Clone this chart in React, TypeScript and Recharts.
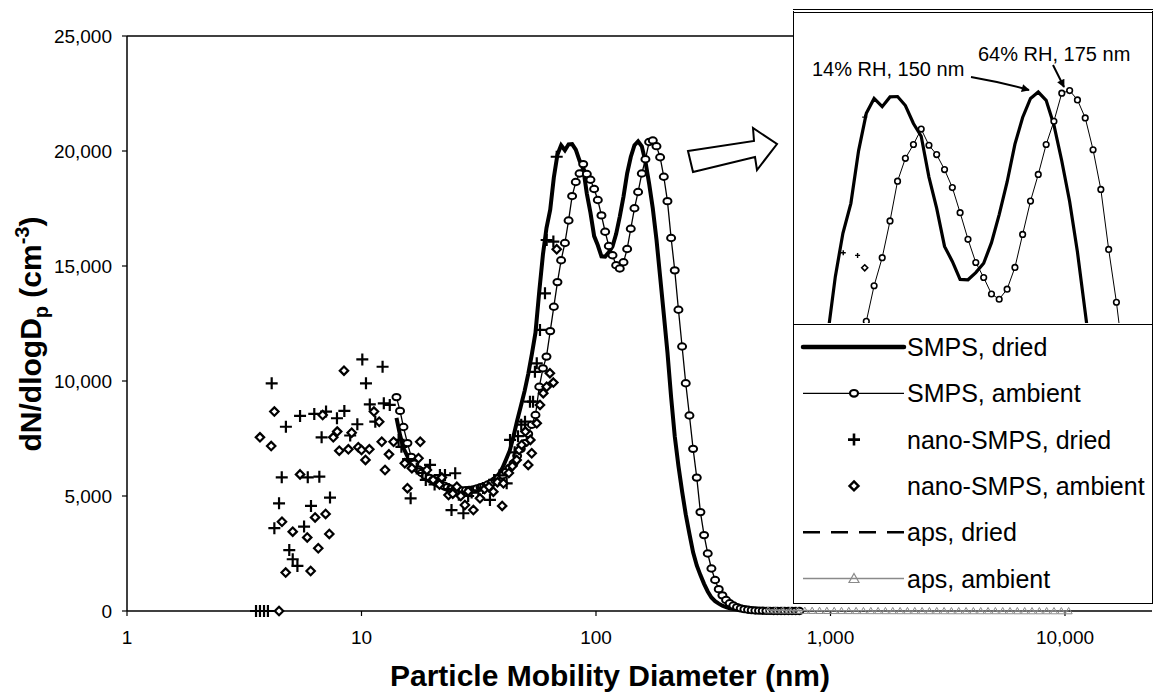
import React from "react";
import { ScatterChart, Scatter, XAxis, YAxis, ReferenceLine } from "recharts";

const FONT = '"Liberation Sans", Arial, Helvetica, sans-serif';

// SMPS channel midpoints (nm)
const SMPS_DIAM = [
  14.1, 14.6, 15.1, 15.7, 16.3, 16.8, 17.5, 18.1, 18.8, 19.5,
  20.2, 20.9, 21.7, 22.5, 23.3, 24.1, 25.0, 25.9, 26.9, 27.9,
  28.9, 30.0, 31.1, 32.2, 33.4, 34.6, 35.9, 37.2, 38.5, 40.0,
  41.4, 42.9, 44.5, 46.1, 47.8, 49.6, 51.4, 53.3, 55.2, 57.3,
  59.4, 61.5, 63.8, 66.1, 68.5, 71.0, 73.7, 76.4, 79.1, 82.0,
  85.1, 88.2, 91.4, 94.7, 98.2, 101.8, 105.5, 109.4, 113.4, 117.6,
  121.9, 126.3, 131.0, 135.8, 140.7, 145.9, 151.2, 156.8, 162.5, 168.5,
  174.7, 181.1, 187.7, 194.6, 201.7, 209.1, 216.7, 224.7, 232.9, 241.4,
  250.3, 259.5, 269.0, 278.8, 289.0, 299.6, 310.6, 322.0, 333.8, 346.0,
  358.7, 371.8, 385.4, 399.5, 414.2, 429.4, 445.1, 461.4, 478.3, 495.8,
  514.0, 532.8, 552.3, 572.5, 593.5, 615.3, 637.8, 661.2, 685.4, 710.5, 736.5,
];

const SMPS_DRIED = [
  8400, 7650, 7080, 6720, 6400, 6200, 6020, 5880, 5740, 5640,
  5550, 5470, 5390, 5320, 5260, 5200, 5165, 5150, 5135, 5150,
  5200, 5265, 5340, 5420, 5510, 5580, 5680, 5790, 5950, 6240,
  6600, 6980, 7600, 8270, 8900, 9560, 10300, 11180, 12100, 13900,
  15500, 16650, 17450, 18850, 19850, 20250, 20030, 20290, 20300, 20060,
  19580, 19240, 18150, 17320, 16300, 15900, 15420, 15410, 15600, 15850,
  16400, 17150, 18020, 19030, 19740, 20250, 20420, 20200, 19540, 18580,
  17500, 16150, 14540, 12900, 11250, 9300, 7600, 6300, 5200, 4200,
  3350, 2550, 1980, 1560, 1180, 850, 590, 430, 320, 230,
  170, 120, 85, 60, 42, 25, 15, 8, 4, 2,
  1, 1, 0, 0, 0, 0, 0, 0, 0, 0, 0,
];

const SMPS_AMBIENT = [
  9300, 8700, 8000, 7300, 6700, 6400, 6150, 6000, 5870, 5780,
  5700, 5620, 5530, 5450, 5380, 5320, 5270, 5250, 5240, 5250,
  5260, 5290, 5330, 5380, 5430, 5500, 5580, 5680, 5780, 5900,
  6050, 6230, 6420, 6750, 7050, 7300, 7700, 8100, 8520, 9750,
  10550, 11060, 12170, 13230, 14300, 15250, 16000, 16980, 18040, 18650,
  19020, 19430, 19000, 18750, 18350, 17870, 17200, 16490, 15870, 15470,
  15030, 14890, 15160, 15740, 16620, 17510, 18220, 19020, 19640, 20390,
  20460, 20210, 19730, 18880, 17820, 16220, 14810, 13100, 11500, 9900,
  8500, 7050, 5800, 4300, 3300, 2500, 1850, 1350, 950, 680,
  480, 340, 240, 170, 115, 80, 55, 38, 25, 16,
  10, 6, 4, 2, 1, 0, 0, 0, 0, 0, 0,
];

const NANO_DRIED_DIAM = [
  3.55, 3.69, 3.84, 3.99, 4.14, 4.25, 4.45, 4.57, 4.76, 4.92,
  5.09, 5.33, 5.47, 5.69, 5.9, 6.09, 6.29, 6.61, 6.76, 7.06,
  7.34, 7.86, 8.45, 8.95, 9.6, 10.08, 10.45, 10.85, 11.45, 12.3,
  12.45, 13.2, 14.4, 14.8, 15.8, 16.2, 17.2, 18.2, 18.8, 19.6,
  20.5, 21.6, 22.7, 23.5, 24.2, 25.1, 26.0, 27.2, 28.5, 29.5,
  31.5, 33.0, 35.3, 36.8, 38.8, 41.6, 43.0, 45.0, 46.5, 48.0,
  49.8, 52.3, 53.9, 54.9, 55.9, 57.7, 60.6, 61.6, 65.8, 68.0,
];
const NANO_DRIED = [
  0, 0, 0, 0, 9900, 3600, 4680, 5810, 8010, 2650,
  2250, 1960, 8480, 3670, 5810, 4570, 8570, 5840, 7550, 8670,
  4930, 8380, 8700, 7630, 8120, 10940, 9900, 8980, 8230, 10620,
  9030, 8960, 7440, 7140, 6600, 4900, 6200, 6000, 5700, 6350,
  5500, 5910, 5910, 5300, 4390, 5990, 5050, 4250, 5000, 5150,
  5250, 5350, 4830, 5700, 5900, 5550, 7440, 6900, 7600, 8100,
  8230, 9100, 9100, 10400, 10770, 12220, 13810, 16130, 16060, 19750,
];

const NANO_AMBIENT_DIAM = [
  3.69, 4.12, 4.25, 4.45, 4.58, 4.75, 5.09, 5.47, 5.87, 6.07,
  6.34, 6.54, 6.83, 7.03, 7.29, 7.58, 7.88, 8.04, 8.42, 8.79,
  9.08, 9.69, 10.0, 10.4, 10.8, 11.3, 11.9, 12.2, 12.6, 13.1,
  13.7, 15.3, 15.7, 16.4, 17.5, 17.8, 19.0, 20.2, 21.5, 22.0,
  23.5, 24.5, 25.5, 26.5, 27.6, 28.5, 30.0, 32.0, 33.5, 35.0,
  36.5, 38.0, 39.8, 40.3, 42.5, 44.0, 45.9, 47.0, 48.2, 50.0,
  51.4, 52.5, 53.2, 55.9, 57.7, 59.6, 61.6, 63.6, 65.8, 68.0,
];
const NANO_AMBIENT = [
  7550, 7170, 8670, 0, 3880, 1670, 3450, 5940, 3200, 1740,
  4070, 2730, 8520, 4220, 3350, 7550, 7800, 6970, 10450, 7030,
  7750, 7120, 7000, 6570, 7030, 8670, 8230, 7360, 6130, 6810,
  7360, 6420, 5340, 6210, 6640, 7360, 6130, 5700, 5500, 5800,
  5040, 5100, 5400, 5000, 4610, 5200, 4390, 4900, 5300, 5400,
  5190, 5600, 4570, 5550, 6000, 6300, 6570, 7000, 7220, 7800,
  6350, 7440, 6860, 8160, 8960, 9470, 9750, 10340, 9930, 15730,
];

const APS_DIAM = [
  542, 583, 626, 673, 723, 777, 835, 898, 965, 1037,
  1114, 1197, 1286, 1382, 1486, 1596, 1715, 1843, 1981, 2129,
  2288, 2458, 2642, 2839, 3051, 3278, 3523, 3786, 4068, 4371,
  4698, 5048, 5425, 5829, 6264, 6732, 7234, 7774, 8354, 8977,
  9647, 10367,
];
const APS_DRIED = [
  30, 26, 22, 18, 15, 12, 10, 8, 7, 6,
  5, 4, 4, 3, 3, 2, 2, 2, 1, 1,
  1, 1, 1, 1, 0, 0, 0, 0, 0, 0,
  0, 0, 0, 0, 0, 0, 0, 0, 0, 0,
  0, 0,
];
const APS_AMBIENT = [
  40, 35, 30, 26, 22, 19, 16, 14, 12, 10,
  9, 8, 7, 6, 5, 5, 4, 4, 3, 3,
  3, 2, 2, 2, 2, 1, 1, 1, 1, 1,
  1, 1, 1, 1, 0, 0, 0, 0, 0, 0,
  0, 0,
];

const X_TICKS = [1, 10, 100, 1000, 10000];
const Y_TICKS = [0, 5000, 10000, 15000, 20000, 25000];
const LEGEND_NAMES = [
  "SMPS, dried",
  "SMPS, ambient",
  "nano-SMPS, dried",
  "nano-SMPS, ambient",
  "aps, dried",
  "aps, ambient",
];

const APS_GREY = "#8a8a8a";

const toPoints = (diam: number[], vals: number[]) => diam.map((d, i) => ({ d, v: vals[i] }));
const fmt = (v: number) => Number(v).toLocaleString("en-US");

type ShapeProps = { cx?: number; cy?: number };

const noMarker = () => <g />;
const ringMarker = (rx: number, ry: number, w: number) => ({ cx = 0, cy = 0 }: ShapeProps) => (
  <ellipse cx={cx} cy={cy} rx={rx} ry={ry} fill="#fff" stroke="#000" strokeWidth={w} />
);
const plusMarker = (s: number, w: number) => ({ cx = 0, cy = 0 }: ShapeProps) => (
  <path d={`M${cx - s},${cy}H${cx + s}M${cx},${cy - s}V${cy + s}`} stroke="#000" strokeWidth={w} fill="none" />
);
const diamondMarker = (s: number, w: number) => ({ cx = 0, cy = 0 }: ShapeProps) => (
  <path d={`M${cx},${cy - s}L${cx + s},${cy}L${cx},${cy + s}L${cx - s},${cy}Z`} fill="#fff" stroke="#000" strokeWidth={w} />
);
const triangleMarker = (s: number) => ({ cx = 0, cy = 0 }: ShapeProps) => (
  <path d={`M${cx},${cy - s}L${cx + s},${cy + s * 0.8}L${cx - s},${cy + s * 0.8}Z`} fill="none" stroke={APS_GREY} strokeWidth={1} />
);

const renderSeries = (inset: boolean) => [
  <Scatter
    key="smps-dried"
    name={LEGEND_NAMES[0]}
    data={toPoints(SMPS_DIAM, SMPS_DRIED)}
    line={{ stroke: "#000", strokeWidth: inset ? 3.2 : 4 }}
    shape={noMarker}
    isAnimationActive={false}
  />,
  <Scatter
    key="smps-ambient"
    name={LEGEND_NAMES[1]}
    data={toPoints(SMPS_DIAM, SMPS_AMBIENT)}
    line={{ stroke: "#000", strokeWidth: inset ? 1 : 1.3 }}
    shape={inset ? ringMarker(2.8, 2.8, 1.6) : ringMarker(4, 3.2, 2)}
    isAnimationActive={false}
  />,
  <Scatter
    key="nano-dried"
    name={LEGEND_NAMES[2]}
    data={toPoints(NANO_DRIED_DIAM, NANO_DRIED)}
    shape={inset ? plusMarker(2.5, 1.4) : plusMarker(6, 2.2)}
    isAnimationActive={false}
  />,
  <Scatter
    key="nano-ambient"
    name={LEGEND_NAMES[3]}
    data={toPoints(NANO_AMBIENT_DIAM, NANO_AMBIENT)}
    shape={inset ? diamondMarker(3, 1.6) : diamondMarker(4.2, 2.2)}
    isAnimationActive={false}
  />,
  <Scatter
    key="aps-dried"
    name={LEGEND_NAMES[4]}
    data={toPoints(APS_DIAM, APS_DRIED)}
    line={{ stroke: "#000", strokeWidth: 1.5, strokeDasharray: "12 6" }}
    shape={noMarker}
    isAnimationActive={false}
  />,
  <Scatter
    key="aps-ambient"
    name={LEGEND_NAMES[5]}
    data={toPoints(APS_DIAM, APS_AMBIENT)}
    line={{ stroke: APS_GREY, strokeWidth: 1.5 }}
    shape={triangleMarker(3.5)}
    isAnimationActive={false}
  />,
];

const LegendSample: React.FC<{ index: number; cy: number }> = ({ index, cy }) => {
  const x0 = 9;
  const x1 = 110;
  const cx = 60;
  switch (index) {
    case 0:
      return <line x1={x0} y1={cy} x2={x1} y2={cy} stroke="#000" strokeWidth={4.5} strokeLinecap="round" />;
    case 1:
      return (
        <g>
          <line x1={x0} y1={cy} x2={x1} y2={cy} stroke="#000" strokeWidth={1.3} />
          <ellipse cx={cx} cy={cy} rx={4} ry={3.3} fill="#fff" stroke="#000" strokeWidth={2.2} />
        </g>
      );
    case 2:
      return <path d={`M${cx - 6},${cy}H${cx + 6}M${cx},${cy - 6}V${cy + 6}`} stroke="#000" strokeWidth={2.6} />;
    case 3:
      return <path d={`M${cx},${cy - 4.5}L${cx + 4.5},${cy}L${cx},${cy + 4.5}L${cx - 4.5},${cy}Z`} fill="#fff" stroke="#000" strokeWidth={2.4} />;
    case 4:
      return <line x1={x0} y1={cy} x2={x1} y2={cy} stroke="#000" strokeWidth={2.5} strokeDasharray="17 11" />;
    default:
      return (
        <g>
          <line x1={x0} y1={cy} x2={x1} y2={cy} stroke={APS_GREY} strokeWidth={1.5} />
          <path d={`M${cx},${cy - 5}L${cx + 5},${cy + 4}L${cx - 5},${cy + 4}Z`} fill="none" stroke={APS_GREY} strokeWidth={1.2} />
        </g>
      );
  }
};

const App: React.FC = () => {
  return (
    <div style={{ position: "relative", width: 1156, height: 693, background: "#fff", fontFamily: FONT }}>
      <style>{"body{margin:0}"}</style>

      {/* main chart */}
      <div style={{ position: "absolute", left: 0, top: 0 }}>
        <ScatterChart width={1156} height={693} margin={{ top: 36, right: 4, bottom: 81, left: 126 }}>
          <XAxis
            type="number"
            dataKey="d"
            scale="log"
            domain={[1, 23500]}
            ticks={X_TICKS}
            interval={0}
            tickFormatter={fmt}
            height={1}
            tickSize={5}
            tickMargin={15}
            axisLine={{ stroke: "#000", strokeWidth: 1.5 }}
            tickLine={{ stroke: "#000", strokeWidth: 1.2 }}
            tick={{ fill: "#000", fontSize: 19, fontFamily: FONT }}
          />
          <YAxis
            type="number"
            dataKey="v"
            domain={[0, 25000]}
            ticks={Y_TICKS}
            interval={0}
            tickFormatter={fmt}
            width={1}
            tickSize={5}
            tickMargin={10}
            axisLine={{ stroke: "#000", strokeWidth: 1.5 }}
            tickLine={{ stroke: "#000", strokeWidth: 1.2 }}
            tick={{ fill: "#000", fontSize: 19, fontFamily: FONT }}
          />
          <ReferenceLine y={25000} stroke="#000" strokeWidth={1.5} />
          {renderSeries(false)}
        </ScatterChart>
      </div>

      {/* zoomed inset */}
      <div
        style={{
          position: "absolute",
          left: 793,
          top: 9,
          width: 360,
          height: 316,
          boxSizing: "border-box",
          background: "#fff",
          borderLeft: "1.5px solid #000",
          borderRight: "1.5px solid #000",
          borderBottom: "1.5px solid #000",
          borderTop: "4px double #000",
        }}
      >
        <div style={{ position: "absolute", left: 0, top: 0 }}>
          <ScatterChart width={357} height={310} margin={{ top: 0, right: 0, bottom: 0, left: 0 }}>
            <XAxis type="number" dataKey="d" scale="log" domain={[49.1, 254.1]} allowDataOverflow hide />
            <YAxis type="number" dataKey="v" domain={[14256, 22529]} allowDataOverflow hide />
            {renderSeries(true)}
          </ScatterChart>
        </div>
      </div>

      {/* legend */}
      <div
        style={{
          position: "absolute",
          left: 793,
          top: 324,
          width: 360,
          height: 280,
          boxSizing: "border-box",
          background: "#fff",
          border: "1.5px solid #000",
        }}
      >
        <svg width={357} height={277} style={{ position: "absolute", left: 0, top: 0 }}>
          {LEGEND_NAMES.map((name, i) => {
            const cy = 22 + i * 46.3;
            return (
              <g key={name}>
                <LegendSample index={i} cy={cy} />
                <text x={113} y={cy + 9} fontSize={25} fontFamily={FONT} fill="#000">
                  {name}
                </text>
              </g>
            );
          })}
        </svg>
      </div>

      {/* titles and annotations */}
      <svg width={1156} height={693} style={{ position: "absolute", left: 0, top: 0, pointerEvents: "none" }}>
        <defs>
          <marker id="ah" viewBox="0 0 10 10" refX="9" refY="5" markerWidth="11" markerHeight="8" markerUnits="userSpaceOnUse" orient="auto">
            <path d="M0,0L10,5L0,10z" fill="#000" />
          </marker>
        </defs>
        <text x={610} y={686} textAnchor="middle" fontSize={30} fontWeight="bold" fontFamily={FONT} fill="#000">
          Particle Mobility Diameter (nm)
        </text>
        <text transform="translate(41,334) rotate(-90)" textAnchor="middle" fontSize={30} fontWeight="bold" fontFamily={FONT} fill="#000">
          dN/dlogD
          <tspan fontSize={20} dy={7}>p</tspan>
          <tspan dy={-7}> (cm</tspan>
          <tspan fontSize={20} dy={-12}>-3</tspan>
          <tspan dy={12}>)</tspan>
        </text>
        <polygon
          points="688,151 754,141 753,128 777,144 757,170 755,157 693,172"
          fill="#fff"
          stroke="#000"
          strokeWidth={2}
          strokeLinejoin="miter"
        />
        <text x={812} y={76} fontSize={20} fontFamily={FONT} fill="#000">
          14% RH, 150 nm
        </text>
        <text x={978} y={61} fontSize={20} fontFamily={FONT} fill="#000">
          64% RH, 175 nm
        </text>
        <path d="M971,77 Q1000,82 1029,90" fill="none" stroke="#000" strokeWidth={2} markerEnd="url(#ah)" />
        <path d="M1053,65 L1064,87" fill="none" stroke="#000" strokeWidth={2} markerEnd="url(#ah)" />
      </svg>
    </div>
  );
};

export default App;
